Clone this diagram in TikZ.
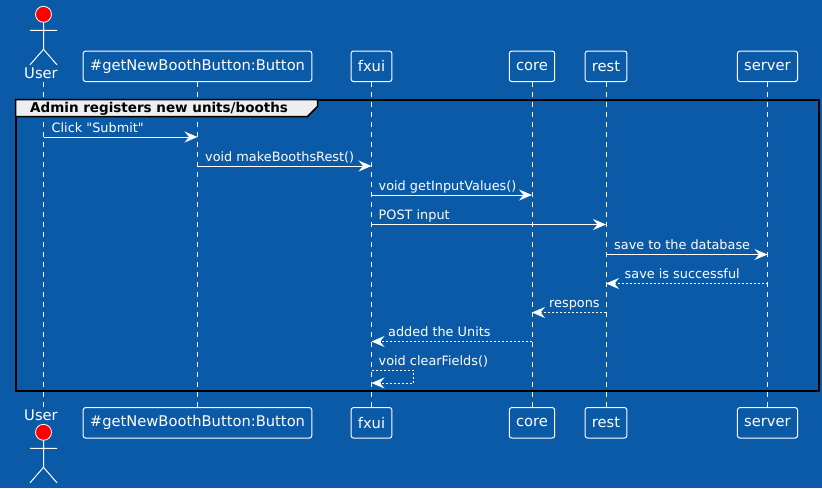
\documentclass[tikz,border=0pt]{standalone}
\usepackage{fontspec}
\newfontfamily\uifont{DejaVu Sans}
\usetikzlibrary{arrows.meta}
\definecolor{DeepBlue}{HTML}{0B5AA8}
\definecolor{TabGray}{HTML}{EEEEEE}
\tikzset{
	party/.style={draw=white, line width=1pt, rounded corners=2.5pt, text=white, font=\uifont\fontsize{14.7}{16}\selectfont, inner xsep=6.8pt, inner ysep=0pt, minimum height=30.5pt},
	who/.style={text=white, font=\uifont\fontsize{14.7}{16}\selectfont, inner sep=0pt, anchor=base},
	life/.style={white, line width=1pt, dash pattern=on 5pt off 5pt},
	msg/.style={white, line width=1pt, -{Stealth[length=13pt, width=11pt, inset=4.5pt]}},
	reply/.style={msg, dash pattern=on 2pt off 2pt},
	msgtext/.style={text=white, font=\uifont\fontsize{12.85}{15}\selectfont, inner sep=0pt, anchor=base west},
	actor/.pic={
		\draw [white, line width=0.8pt, fill=red] (0, 0) circle (8);
		\draw [white, line width=1pt] (0, 8) -- (0, 35) (-13.5, 16) -- (13.5, 16) (-13.5, 50.5) -- (0, 35) -- (13.5, 50.5);
	}
}

\begin{document}
\begin{tikzpicture}[x=1pt, y=-1pt]
	\useasboundingbox [fill=DeepBlue] (0, 0) rectangle (822, 488);

	% top row
	\pic at (43.5, 14.3) {actor};
	\node [who] (user) at (41, 78.7) {User};
	\node [party] (button) at (197.5, 66.3) {\#getNewBoothButton:Button};
	\node [party] (fxui) at (371.5, 66.3) {fxui};
	\node [party] (core) at (532, 66.3) {core};
	\node [party] (rest) at (606, 66.3) {rest};
	\node [party] (server) at (767.5, 66.3) {server};

	% bottom row
	\pic at (43.5, 432.3) {actor};
	\node [who] (userb) at (41, 420.7) {User};
	\node [party] (buttonb) at (197.5, 422.8) {\#getNewBoothButton:Button};
	\node [party] (fxuib) at (371.5, 422.8) {fxui};
	\node [party] (coreb) at (532, 422.8) {core};
	\node [party] (restb) at (606, 422.8) {rest};
	\node [party] (serverb) at (767.5, 422.8) {server};

	% lifelines
	\coordinate (usertop) at (43.5, 82);
	\coordinate (userend) at (43.5, 407.5);
	\draw [life] (usertop) -- (userend);
	\foreach \top/\bottom in {button/buttonb, fxui/fxuib, core/coreb, rest/restb, server/serverb} {
		\draw [life] (\top.south) -- (\bottom.north);
	}

	% frame
	\draw [black, line width=2pt] (15.5, 99.5) rectangle (818.5, 391);
	\draw [black, line width=1.5pt, fill=TabGray] (15.5, 99.5) -- (317.5, 99.5) -- (317.5, 106.5) -- (307.5, 116.5) -- (15.5, 116.5) -- cycle;
	\node [black, inner sep=0pt, anchor=base west, font=\uifont\fontsize{13.5}{15}\selectfont\bfseries] (title) at (30, 112.5) {Admin registers new units/booths};

	% messages
	\draw [msg] (usertop |- 0, 137) -- (button |- 0, 137);
	\node [msgtext] (click) at (51.5, 132) {Click "Submit"};
	\draw [msg] (button |- 0, 166) -- (fxui |- 0, 166);
	\node [msgtext] (make) at (205, 161) {void makeBoothsRest()};
	\draw [msg] (fxui |- 0, 195) -- (core |- 0, 195);
	\node [msgtext] (getvalues) at (378.5, 190) {void getInputValues()};
	\draw [msg] (fxui |- 0, 224.5) -- (rest |- 0, 224.5);
	\node [msgtext] (post) at (378.5, 219.5) {POST input};
	\draw [msg] (rest |- 0, 254.5) -- (server |- 0, 254.5);
	\node [msgtext] (save) at (614, 249.3) {save to the database};
	\draw [reply] (server |- 0, 283.5) -- (rest |- 0, 283.5);
	\node [msgtext] (saved) at (624.5, 278.3) {save is successful};
	\draw [reply] (rest |- 0, 312.5) -- (core |- 0, 312.5);
	\node [msgtext] (respons) at (549, 307.3) {respons};
	\draw [reply] (core |- 0, 341.5) -- (fxui |- 0, 341.5);
	\node [msgtext] (added) at (388, 336.3) {added the Units};
	\draw [reply] (fxui |- 0, 370.5) -- (413.5, 370.5) -- (413.5, 383) -- (fxui |- 0, 383);
	\node [msgtext] (clear) at (378.5, 365.5) {void clearFields()};
\end{tikzpicture}
\end{document}
